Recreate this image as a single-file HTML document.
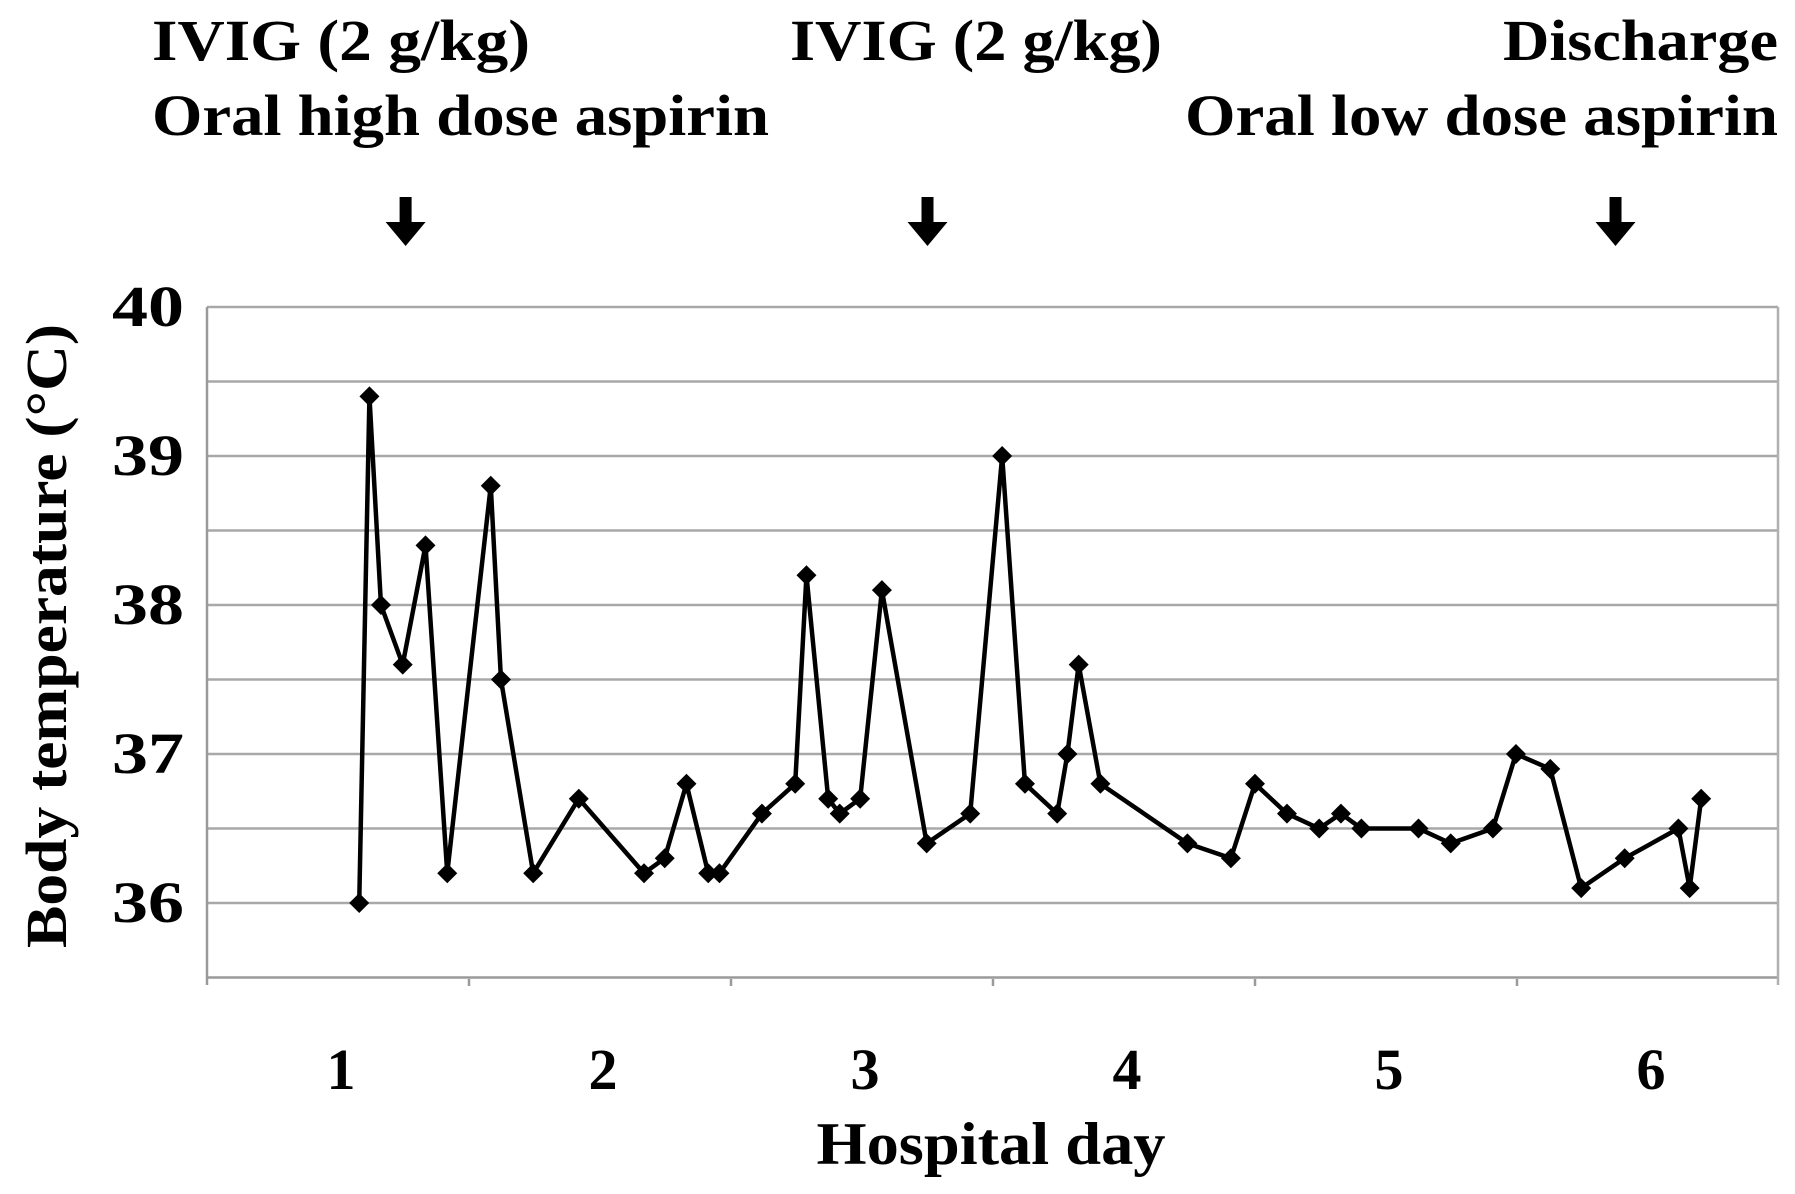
<!DOCTYPE html>
<html><head><meta charset="utf-8"><style>
html,body{margin:0;padding:0;background:#fff;}
svg{display:block;font-family:"Liberation Serif",serif;font-weight:bold;}
</style></head><body>
<svg id="chart" width="1795" height="1194" viewBox="0 0 1795 1194" xmlns="http://www.w3.org/2000/svg">
<g font-size="58" fill="#000">
<text x="152" y="60" textLength="378" lengthAdjust="spacingAndGlyphs">IVIG (2 g/kg)</text>
<text x="152" y="135" textLength="617" lengthAdjust="spacingAndGlyphs">Oral high dose aspirin</text>
<text x="790" y="60" textLength="372" lengthAdjust="spacingAndGlyphs">IVIG (2 g/kg)</text>
<text x="1503" y="60" textLength="275" lengthAdjust="spacingAndGlyphs">Discharge</text>
<text x="1185" y="135" textLength="593" lengthAdjust="spacingAndGlyphs">Oral low dose aspirin</text>
</g>
<g id="arrows"></g>
<g id="grid"></g>
<g id="series"></g>
<g id="labels" font-size="58" fill="#000"></g>
<text transform="translate(66,636) rotate(-90)" text-anchor="middle" font-size="58" textLength="624" lengthAdjust="spacingAndGlyphs">Body temperature (°C)</text>
<text x="991" y="1164" text-anchor="middle" font-size="60" textLength="349" lengthAdjust="spacingAndGlyphs">Hospital day</text>
</svg>
<script>
const days = [1.081,1.120,1.164,1.247,1.334,1.417,1.583,1.622,1.745,1.919,2.168,2.247,2.330,2.413,2.456,2.618,2.745,2.788,2.871,2.915,2.993,3.076,3.247,3.413,3.535,3.622,3.745,3.784,3.827,3.910,4.242,4.408,4.500,4.622,4.745,4.828,4.906,5.124,5.247,5.408,5.496,5.627,5.745,5.911,6.116,6.159,6.203];
const temps = [36.0,39.4,38.0,37.6,38.4,36.2,38.8,37.5,36.2,36.7,36.2,36.3,36.8,36.2,36.2,36.6,36.8,38.2,36.7,36.6,36.7,38.1,36.4,36.6,39.0,36.8,36.6,37.0,37.6,36.8,36.4,36.3,36.8,36.6,36.5,36.6,36.5,36.5,36.4,36.5,37.0,36.9,36.1,36.3,36.5,36.1,36.7];
const dayLabels = ["1","2","3","4","5","6"];
const yTicks = [36,37,38,39,40];
const arrowDays = [1.258,3.250,5.876];

const NS="http://www.w3.org/2000/svg";
const L=207,R=1778,CW=262,Y40=307,PERDEG=149,BOTTOM=979;
const xs=d=>L+(d-0.5)*CW;
const ys=t=>Y40+(40-t)*PERDEG;
function mk(tag,attrs,parent){const e=document.createElementNS(NS,tag);for(const k in attrs)e.setAttribute(k,attrs[k]);parent.appendChild(e);return e;}
const grid=document.getElementById('grid'),ser=document.getElementById('series'),lab=document.getElementById('labels'),arr=document.getElementById('arrows');
for(let v=35.5;v<=40.01;v+=0.5){
  const y=ys(v);
  const g=mk('line',{x1:L,x2:R,y1:y,y2:y,stroke:v===35.5?'#9a9a9a':'#a8a8a8','stroke-width':2.5},grid);
  
  
}
const ya=mk('line',{x1:L,x2:L,y1:Y40,y2:BOTTOM+6,stroke:'#9a9a9a','stroke-width':2.5},grid);


const rb=mk('line',{x1:R,x2:R,y1:Y40,y2:BOTTOM+6,stroke:'#b0b0b0','stroke-width':2.5},grid);


for(let i=1;i<dayLabels.length;i++){
  const x=L+i*CW;
  const t=mk('line',{x1:x,x2:x,y1:BOTTOM,y2:BOTTOM+7,stroke:'#9a9a9a','stroke-width':2.5},grid);
  
  
}
yTicks.forEach(v=>{
  const t=mk('text',{x:184,y:ys(v)+19,'text-anchor':'end',textLength:72,lengthAdjust:'spacingAndGlyphs'},lab);
  t.textContent=v;
  
  
});
dayLabels.forEach((s,i)=>{
  const t=mk('text',{x:xs(i+1)+3,y:1089,'text-anchor':'middle'},lab);
  t.textContent=s;
  
  
});
arrowDays.forEach(d=>{
  const x=xs(d);
  const p=mk('polygon',{points:`${x-6},197 ${x+6},197 ${x+6},222 ${x+20},222 ${x},246 ${x-20},222 ${x-6},222`,fill:'#000'},arr);
  
  
});
const pts=days.map((d,i)=>xs(d)+','+ys(temps[i])).join(' ');
const pl=mk('polyline',{points:pts,fill:'none',stroke:'#000','stroke-width':4.5,'stroke-linejoin':'miter'},ser);


days.forEach((d,i)=>{
  const x=xs(d),y=ys(temps[i]),s=10;
  const m=mk('polygon',{points:`${x},${y-s} ${x+s},${y} ${x},${y+s} ${x-s},${y}`,fill:'#000'},ser);
  
  
});
</script>
</body></html>
